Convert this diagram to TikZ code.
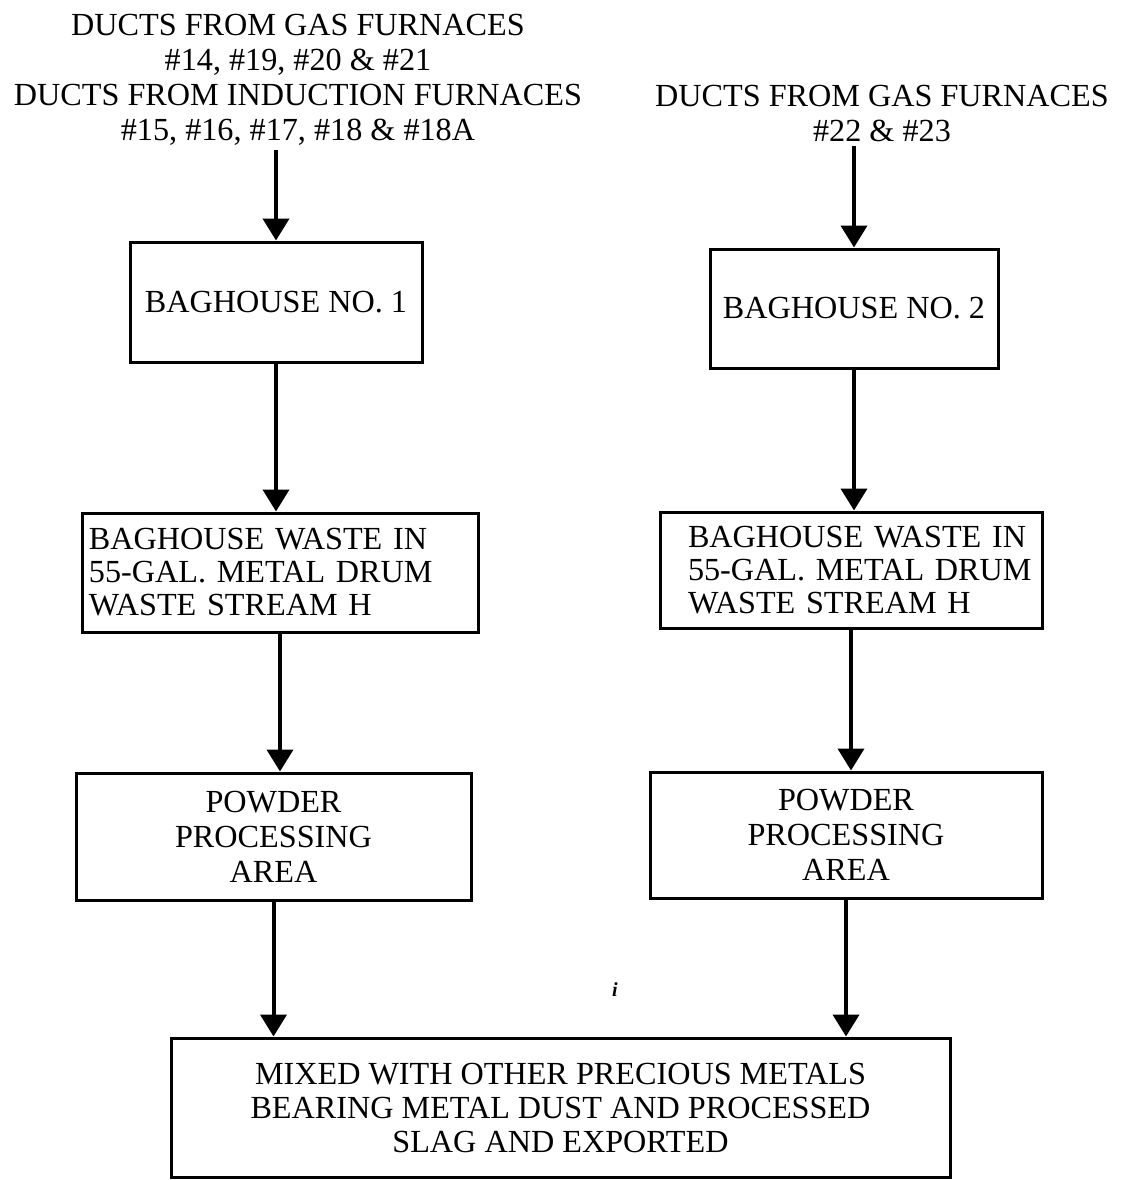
\documentclass[tikz,border=0pt]{standalone}
\usepackage{fontspec}
\setmainfont{Liberation Serif}
\usetikzlibrary{arrows.meta}
\begin{document}
\begin{tikzpicture}[x=0.5pt,y=-0.5pt,
  txt/.style={font=\fontsize{16.1}{17.5}\selectfont},
  hdr/.style={txt, inner sep=2pt, align=center},
  box/.style={txt, draw, line width=1.5pt, inner sep=0pt, align=center},
  lbox/.style={box, align=left, font=\fontsize{16.1}{16.5}\selectfont},
  conn/.style={line width=2pt, -{Triangle[width=13pt,length=11pt]}}]
\useasboundingbox (0,0) rectangle (1122,1180);

\node[hdr] (hdrL) at (298,80) {DUCTS FROM GAS FURNACES\\ \#14, \#19, \#20 \& \#21\\ DUCTS FROM INDUCTION FURNACES\\ \#15, \#16, \#17, \#18 \& \#18A};
\node[hdr] (hdrR) at (882,113) {DUCTS FROM GAS FURNACES\\ \#22 \& \#23};

\node[box, minimum width=146pt, minimum height=60pt] (box1) at (276,302) {BAGHOUSE NO. 1};
\node[box, minimum width=144pt, minimum height=59.5pt] (box2) at (854,308.5) {BAGHOUSE NO. 2};

\node[lbox, text width=191pt, inner xsep=3.5pt, minimum height=59.5pt] (box3) at (280,572.5)
  {\mbox{BAGHOUSE WASTE IN}\\ \mbox{55-GAL. METAL DRUM}\\ \mbox{WASTE STREAM H}};
\node[lbox, text width=163pt, inner xsep=14pt, minimum height=58pt] (box4) at (851,570)
  {\mbox{BAGHOUSE WASTE IN}\\ \mbox{55-GAL. METAL DRUM}\\ \mbox{WASTE STREAM H}};

\node[box, minimum width=197.5pt, minimum height=63.5pt] (box5) at (273.5,836.5) {POWDER\\ PROCESSING\\ AREA};
\node[box, minimum width=196pt, minimum height=63pt] (box6) at (846,835) {POWDER\\ PROCESSING\\ AREA};

\node[box, minimum width=389.5pt, minimum height=69.5pt, font=\fontsize{16.1}{17}\selectfont] (box7) at (560.5,1107.5)
  {MIXED WITH OTHER PRECIOUS METALS\\ BEARING METAL DUST AND PROCESSED\\ SLAG AND EXPORTED};

\node[font=\fontsize{10}{10}\selectfont\bfseries\itshape] (speck) at (615,990) {i};

\draw[conn] (hdrL.south -| box1.north) -- (box1.north);
\draw[conn] (box1.south) -- (box1.south |- box3.north);
\draw[conn] (box3.south) -- (box3.south |- box5.north);
\draw[conn] (box5.south) -- (box5.south |- box7.north);
\draw[conn] (hdrR.south -| box2.north) -- (box2.north);
\draw[conn] (box2.south) -- (box2.south |- box4.north);
\draw[conn] (box4.south) -- (box4.south |- box6.north);
\draw[conn] (box6.south) -- (box6.south |- box7.north);
\end{tikzpicture}
\end{document}
